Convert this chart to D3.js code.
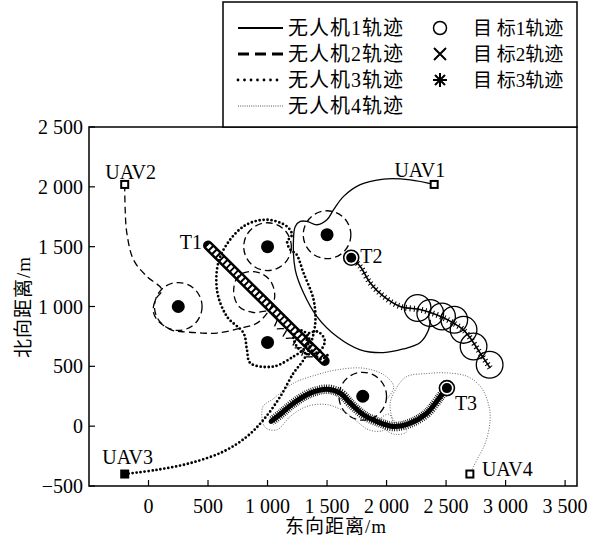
<!DOCTYPE html>
<html><head><meta charset="utf-8">
<script src="https://cdn.jsdelivr.net/npm/d3@7"></script>
<style>body{margin:0;background:#fff}</style>
</head><body>
<svg id="c" width="603" height="545"></svg>
<script>
// ---------- data ----------
const xTicks = [0, 500, 1000, 1500, 2000, 2500, 3000, 3500];
const xTickLabels = ["0", "500", "1 000", "1 500", "2 000", "2 500", "3 000", "3 500"];
const yTicks = [-500, 0, 500, 1000, 1500, 2000, 2500];
const yTickLabels = ["\u2212500", "0", "500", "1 000", "1 500", "2 000", "2 500"];

const threats = [[250, 1000], [1000, 1500], [1500, 1600], [1000, 700], [1800, 250]];
const threatZones = [[250, 1000], [1000, 1500], [1500, 1600], [1800, 250]];
const threatZoneRadius = 200;

const uavStarts = [
  {name: "UAV1", x: 2400, y: 2020},
  {name: "UAV2", x: -200, y: 2020},
  {name: "UAV3", x: -200, y: -400},
  {name: "UAV4", x: 2700, y: -400}
];
const targetStarts = [
  {name: "T1", x: 500, y: 1510},
  {name: "T2", x: 1703, y: 1408},
  {name: "T3", x: 2507, y: 318}
];

const uav1 = [[2400,2020],[2200,2059],[1975,2065],[1779,2018],[1639,1920],[1555,1809],[1499,1725],
  [1415,1683],[1331,1711],[1275,1711],[1233,1669],[1218,1558],[1233,1307],[1303,1112],[1415,916],
  [1583,749],[1779,638],[1975,615],[2140,645],[2283,700],[2353,805],[2367,889]];
const uav1Orbits = [[2261,987],[2367,945],[2466,916],[2569,889],[2647,805],[2731,666],[2866,513]];
const uav1OrbitRadius = 112;

const uav2 = [[-200,2020],[-196,1810],[-182,1614],[-126,1390],[-14,1251],[113,1140],[60,1060],
  [40,960],[80,880],[200,800],[266,791],[420,780],[575,778],[771,819],[911,861],[1000,950],
  [1060,1080],[1020,1220],[900,1290],[760,1260],[715,1130],[760,1000],[880,950],[1000,960],
  [1080,900],[1060,820],[1160,810],[1130,740],[1240,730],[1210,660],[1310,650],[1290,590],[1380,580]];

const uav3 = [[-200,-400],[70,-365],[350,-309],[630,-212],[827,-87],[966,53],[1107,247],[1218,443],
  [1303,554],[1360,680],[1401,861],[1387,1056],[1303,1279],[1240,1440],[1195,1470],[1165,1540],
  [1205,1600],[1163,1669],[995,1725],[798,1669],[603,1418],[575,1139],[659,916],[798,778],
  [827,638],[855,527],[1050,498],[1218,582],[1300,640],[1350,730],[1290,800],[1220,760],
  [1250,660],[1350,600],[1450,640],[1480,720],[1420,790],[1330,760],[1360,650],[1450,560],[1520,610]];

const uav4 = [[2700,-400],[2760,-280],[2830,-140],[2870,50],[2855,190],[2790,330],[2680,415],
  [2510,445],[2340,440],[2170,415],[2090,330],[2030,190],[2060,50],[2170,-45],[2080,-70],
  [1980,-20],[1950,60],[2020,100],[2050,20],[1960,-40],[1850,-30],[1750,40],[1650,120],
  [1500,180],[1330,165],[1190,80],[1080,-30],[980,-10],[960,160],[1050,230],[1220,360],
  [1415,430],[1580,470],[1800,485],[1975,430],[2060,330],[2000,220]];

const target1 = [[500,1510],[990,1028],[1480,545]];
const target2 = [[1703,1408],[1779,1334],[1863,1196],[1975,1084],[2115,1000],[2280,975],
  [2367,950],[2470,910],[2563,861],[2650,800],[2703,736],[2787,610],[2871,485]];
const target3 = [[2507,318],[2451,247],[2339,109],[2199,25],[2059,-3],[1919,38],[1807,93],
  [1695,192],[1611,276],[1499,309],[1359,276],[1218,192],[1120,110],[1030,40]];

const legendUav = ["无人机1轨迹", "无人机2轨迹", "无人机3轨迹", "无人机4轨迹"];
const legendTarget = ["目 标1轨迹", "目 标2轨迹", "目 标3轨迹"];

// ---------- drawing ----------
const svg = d3.select("#c");
const M = {l: 89, r: 577, t: 127, b: 486};
const x = d3.scaleLinear().domain([-500, 3600]).range([M.l, M.r]);
const y = d3.scaleLinear().domain([-500, 2500]).range([M.b, M.t]);
const serif = "'Liberation Serif','Times New Roman',serif";
const cjk = "'Liberation Serif','Noto Sans CJK SC',serif";

const line = d3.line().x(d => x(d[0])).y(d => y(d[1])).curve(d3.curveCatmullRom.alpha(0.5));
const straight = d3.line().x(d => x(d[0])).y(d => y(d[1]));

const plot = svg.append("g");
plot.append("defs").append("clipPath").attr("id","clip").append("rect")
  .attr("x", M.l).attr("y", M.t).attr("width", M.r - M.l).attr("height", M.b - M.t);
const g = plot.append("g").attr("clip-path","url(#clip)");

// threat zones (dashed)
g.selectAll(".tz").data(threatZones).join("ellipse")
  .attr("cx", d => x(d[0])).attr("cy", d => y(d[1]))
  .attr("rx", x(threatZoneRadius) - x(0)).attr("ry", y(0) - y(threatZoneRadius))
  .attr("fill","none").attr("stroke","#000").attr("stroke-width",1.3).attr("stroke-dasharray","7 4");

// UAV4 thin dotted
g.append("path").attr("d", line(uav4)).attr("fill","none").attr("stroke","#666")
  .attr("stroke-width",1).attr("stroke-dasharray","1 1.6");

// target 3 asterisk chain
g.append("path").attr("d", line(target3)).attr("fill","none").attr("stroke","#000")
  .attr("stroke-width",9.5).attr("stroke-dasharray","0.8 1.3");
g.append("path").attr("d", line(target3)).attr("fill","none").attr("stroke","#000")
  .attr("stroke-width",5).attr("stroke-linecap","round");

// target 1 circle chain
g.append("path").attr("d", straight(target1)).attr("fill","none").attr("stroke","#000")
  .attr("stroke-width",10).attr("stroke-linecap","round");
g.append("path").attr("d", straight(target1)).attr("fill","none").attr("stroke","#fff")
  .attr("stroke-width",5).attr("stroke-dasharray","3 2");

// target 2 x chain
g.append("path").attr("d", line(target2)).attr("fill","none").attr("stroke","#000")
  .attr("stroke-width",6).attr("stroke-dasharray","1 3");
g.append("path").attr("d", line(target2)).attr("fill","none").attr("stroke","#000")
  .attr("stroke-width",1.6);

// UAV2 dashed
g.append("path").attr("d", line(uav2)).attr("fill","none").attr("stroke","#000")
  .attr("stroke-width",1.3).attr("stroke-dasharray","7 4");

// UAV3 bold dots
g.append("path").attr("d", line(uav3)).attr("fill","none").attr("stroke","#000")
  .attr("stroke-width",2.8).attr("stroke-linecap","round").attr("stroke-dasharray","0 4");

// UAV1 solid + orbits
g.append("path").attr("d", line(uav1)).attr("fill","none").attr("stroke","#000").attr("stroke-width",1.3);
g.selectAll(".orb").data(uav1Orbits).join("ellipse")
  .attr("cx", d => x(d[0])).attr("cy", d => y(d[1]))
  .attr("rx", x(uav1OrbitRadius) - x(0)).attr("ry", y(0) - y(uav1OrbitRadius))
  .attr("fill","none").attr("stroke","#000").attr("stroke-width",1.3);

// threats
g.selectAll(".th").data(threats).join("circle")
  .attr("cx", d => x(d[0])).attr("cy", d => y(d[1])).attr("r", 6.5).attr("fill","#000");

// target start markers
targetStarts.forEach((t, i) => {
  if (i === 0) return;
  g.append("circle").attr("cx", x(t.x)).attr("cy", y(t.y)).attr("r", 7.5)
    .attr("fill","#fff").attr("stroke","#000").attr("stroke-width",1.6);
  g.append("circle").attr("cx", x(t.x)).attr("cy", y(t.y)).attr("r", 5).attr("fill","#000");
});

// UAV start markers
svg.selectAll(".us").data(uavStarts).join("rect")
  .attr("x", d => x(d.x) - 3.5).attr("y", d => y(d.y) - 3.5).attr("width", 7).attr("height", 7)
  .attr("fill", d => d.name === "UAV3" ? "#000" : "#fff").attr("stroke","#000").attr("stroke-width",2);

// labels
const uavLabelPos = {UAV1: [11, -7, "end"], UAV2: [6, -5, "middle"], UAV3: [3, -10, "middle"], UAV4: [12, 2, "start"]};
svg.selectAll(".ul").data(uavStarts).join("text")
  .attr("x", d => x(d.x) + uavLabelPos[d.name][0]).attr("y", d => y(d.y) + uavLabelPos[d.name][1])
  .attr("text-anchor", d => uavLabelPos[d.name][2])
  .attr("font-family", serif).attr("font-size", 20).text(d => d.name);
const tLabelPos = {T1: [-6, 4, "end"], T2: [9, 5, "start"], T3: [8, 22, "start"]};
svg.selectAll(".tl").data(targetStarts).join("text")
  .attr("x", d => x(d.x) + tLabelPos[d.name][0]).attr("y", d => y(d.y) + tLabelPos[d.name][1])
  .attr("text-anchor", d => tLabelPos[d.name][2])
  .attr("font-family", serif).attr("font-size", 20).text(d => d.name);

// frame + axes
svg.append("rect").attr("x", M.l).attr("y", M.t).attr("width", M.r - M.l).attr("height", M.b - M.t)
  .attr("fill","none").attr("stroke","#000").attr("stroke-width",1.5);
svg.selectAll(".xt").data(xTicks).join("line")
  .attr("x1", d => x(d)).attr("x2", d => x(d)).attr("y1", M.b).attr("y2", M.b - 6)
  .attr("stroke","#000").attr("stroke-width",1.2);
svg.selectAll(".yt").data(yTicks).join("line")
  .attr("y1", d => y(d)).attr("y2", d => y(d)).attr("x1", M.l).attr("x2", M.l + 6)
  .attr("stroke","#000").attr("stroke-width",1.2);
svg.selectAll(".xl").data(xTicks).join("text")
  .attr("x", d => x(d)).attr("y", 513).attr("text-anchor","middle")
  .attr("font-family", serif).attr("font-size", 20).text((d, i) => xTickLabels[i]);
svg.selectAll(".yl").data(yTicks).join("text")
  .attr("x", 83).attr("y", d => y(d) + 7).attr("text-anchor","end")
  .attr("font-family", serif).attr("font-size", 20).text((d, i) => yTickLabels[i]);
svg.append("text").attr("x", 336).attr("y", 533).attr("text-anchor","middle")
  .attr("font-family", cjk).attr("font-size", 19).attr("letter-spacing", 1).text("东向距离/m");
svg.append("text").attr("transform","translate(30,307) rotate(-90)").attr("text-anchor","middle")
  .attr("font-family", cjk).attr("font-size", 19).attr("letter-spacing", 1).text("北向距离/m");

// legend
const L = svg.append("g");
L.append("rect").attr("x", 223).attr("y", 2).attr("width", 354).attr("height", 125)
  .attr("fill","#fff").attr("stroke","#000").attr("stroke-width",1.5);
const rowsY = [28, 54, 80, 106];
const legStyles = [
  {w: 2, dash: null, col: "#000", cap: "butt"},
  {w: 3, dash: "11 6", col: "#000", cap: "butt"},
  {w: 2.8, dash: "0 6.5", col: "#000", cap: "round"},
  {w: 1, dash: "1 1.2", col: "#555", cap: "butt"}
];
legendUav.forEach((t, i) => {
  const s = legStyles[i];
  L.append("line").attr("x1", 238).attr("x2", 283).attr("y1", rowsY[i]).attr("y2", rowsY[i])
    .attr("stroke", s.col).attr("stroke-width", s.w).attr("stroke-dasharray", s.dash).attr("stroke-linecap", s.cap);
  L.append("text").attr("x", 288).attr("y", rowsY[i]).attr("dy","0.36em")
    .attr("font-family", cjk).attr("font-size", 20).attr("letter-spacing", 1).text(t);
});
legendTarget.forEach((t, i) => {
  L.append("text").attr("x", 473).attr("y", rowsY[i]).attr("dy","0.36em")
    .attr("font-family", cjk).attr("font-size", 19).text(t);
});
const mx = 440;
L.append("circle").attr("cx", mx).attr("cy", rowsY[0]).attr("r", 6.5).attr("fill","none")
  .attr("stroke","#000").attr("stroke-width",1.5);
const s2 = 6;
L.append("path").attr("d", `M${mx-s2},${rowsY[1]-s2}L${mx+s2},${rowsY[1]+s2}M${mx-s2},${rowsY[1]+s2}L${mx+s2},${rowsY[1]-s2}`)
  .attr("stroke","#000").attr("stroke-width",2);
const s3 = 7;
L.append("path").attr("d", `M${mx-s3},${rowsY[2]}L${mx+s3},${rowsY[2]}M${mx},${rowsY[2]-s3}L${mx},${rowsY[2]+s3}` +
  `M${mx-5},${rowsY[2]-5}L${mx+5},${rowsY[2]+5}M${mx-5},${rowsY[2]+5}L${mx+5},${rowsY[2]-5}`)
  .attr("stroke","#000").attr("stroke-width",2);
</script>
</body></html>
